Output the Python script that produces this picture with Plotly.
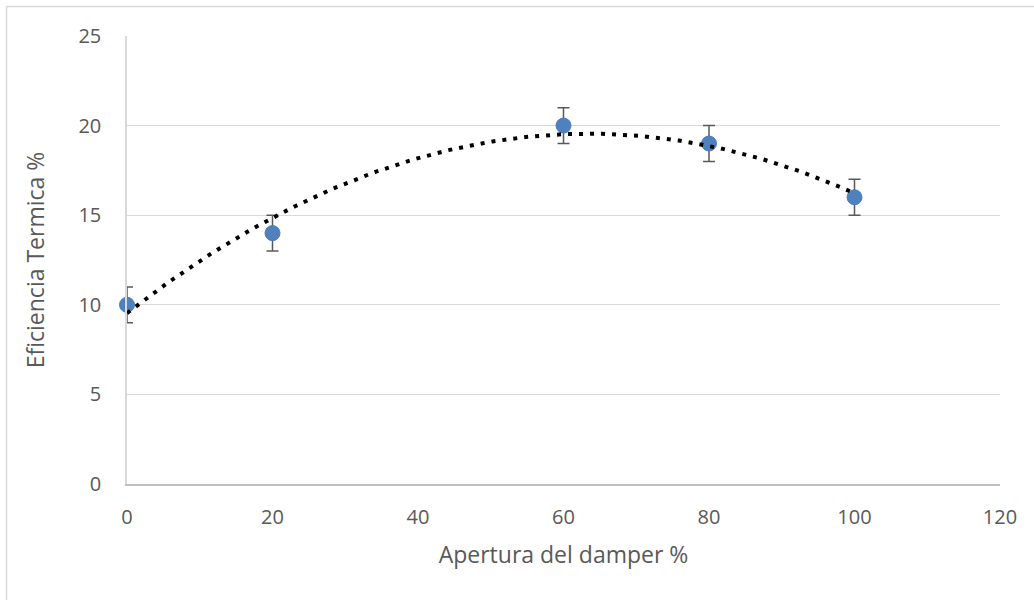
import numpy as np
import plotly.graph_objects as go

# Measured data
apertura = [0, 20, 60, 80, 100]
eficiencia = [10, 14, 20, 19, 16]
error = [1, 1, 1, 1, 1]

x_ticks = [0, 20, 40, 60, 80, 100, 120]
y_ticks = [0, 5, 10, 15, 20, 25]

# Polynomial (order 2) trendline fitted to the measurements
coef = np.polyfit(apertura, eficiencia, 2)
xt = np.linspace(min(apertura), max(apertura), 200)
yt = np.polyval(coef, xt)

FONT = "Open Sans"
TXT = "#595959"

fig = go.Figure()
fig.add_trace(go.Scatter(
    x=apertura, y=eficiencia, mode="markers",
    marker=dict(size=15, color="#4F81BD", line=dict(color="#4A7EBB", width=1)),
    error_y=dict(type="data", array=error, visible=True,
                 color="#595959", thickness=1.5, width=6),
    cliponaxis=False, showlegend=False,
))
fig.add_trace(go.Scatter(
    x=xt, y=yt, mode="lines",
    line=dict(color="black", width=4, dash="4px,7px"),
    showlegend=False, hoverinfo="skip",
))

# plot area: left 127, right 1000, top 36, bottom 484 (pixels)
L, R, T, B = 127, 1000, 36, 484
W, H = 1034, 600
pw, ph = R - L, B - T
def px(x):
    return (x - L) / pw
def py(y):
    return (B - y) / ph

fig.update_layout(
    width=W, height=H,
    margin=dict(l=L, r=W - R, t=T, b=H - B),
    paper_bgcolor="white", plot_bgcolor="white",
    font=dict(family=FONT, size=20, color=TXT),
    shapes=[
        dict(type="line", xref="paper", yref="paper",
             x0=px(6.5), x1=px(6.5), y0=py(6.5), y1=py(620),
             line=dict(color="#d9d9d9", width=1.5)),
        dict(type="line", xref="paper", yref="paper",
             x0=px(6.5), x1=px(1050), y0=py(6.5), y1=py(6.5),
             line=dict(color="#d9d9d9", width=1.5)),
    ],
)
fig.update_xaxes(
    range=[0, 120], tickvals=x_ticks, showgrid=False, zeroline=False,
    showline=True, linecolor="#bfbfbf", linewidth=1.5,
    ticks="", ticklabelstandoff=14,
    tickfont=dict(family=FONT, size=20, color=TXT),
    title=dict(text="Apertura del damper %", standoff=18,
               font=dict(family=FONT, size=23, color=TXT)),
)
fig.update_yaxes(
    range=[0, 25], tickvals=y_ticks, showgrid=True, gridcolor="#d9d9d9",
    gridwidth=1, zeroline=False,
    showline=True, linecolor="#d9d9d9", linewidth=1.5,
    ticks="", ticklabelstandoff=20,
    tickfont=dict(family=FONT, size=20, color=TXT),
    title=dict(text="Eficiencia Termica %", standoff=27,
               font=dict(family=FONT, size=23, color=TXT)),
)

fig.write_html("out.html")
